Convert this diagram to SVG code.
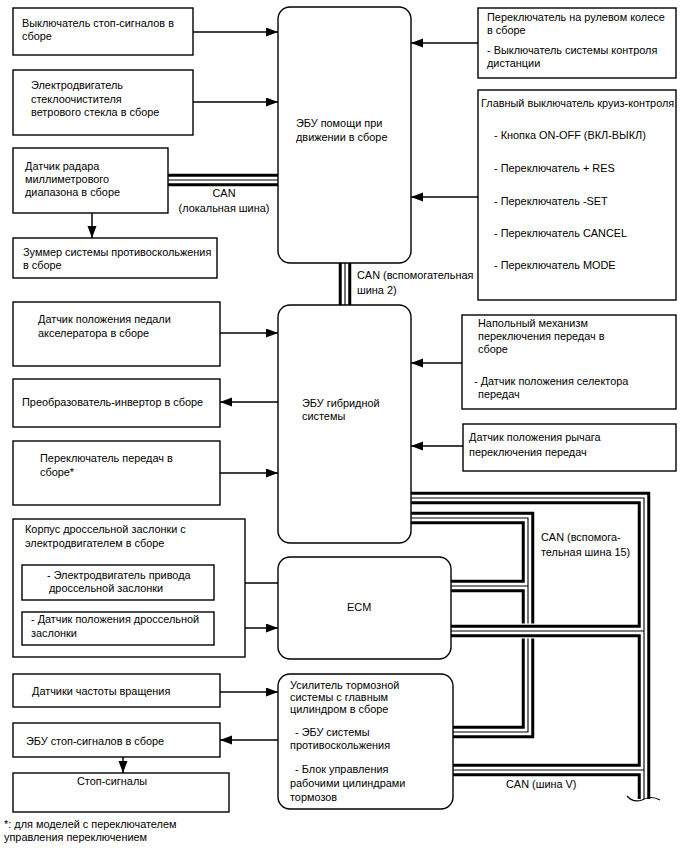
<svg xmlns="http://www.w3.org/2000/svg" width="688" height="852" viewBox="0 0 688 852">
<defs>
<marker id="ah" markerUnits="userSpaceOnUse" markerWidth="13" markerHeight="10" refX="12" refY="4.5" orient="auto">
<path d="M0,0 L12,4.5 L0,9 z" fill="#000"/>
</marker>
<style>
text{font-family:"Liberation Sans",Arial,sans-serif;font-size:10.9px;fill:#000}
.b{fill:#fff;stroke:#000;stroke-width:1.4}
.a{fill:none;stroke:#000;stroke-width:1.5;marker-end:url(#ah)}
.c1{fill:none;stroke:#000;stroke-width:12.5}
.c2{fill:none;stroke:#fff;stroke-width:6.5}
.c3{fill:none;stroke:#000;stroke-width:1.1}
.m{text-anchor:middle}
</style>
</defs>
<rect width="688" height="852" fill="#fff"/>

<g id="connectors">
<line class="a" x1="193" y1="32" x2="278" y2="32"/>
<line class="a" x1="193" y1="102" x2="278" y2="102"/>
<line class="a" x1="92" y1="213" x2="92" y2="238"/>
<line class="a" x1="478" y1="43" x2="411" y2="43"/>
<line class="a" x1="478" y1="197" x2="411" y2="197"/>
<line class="a" x1="220" y1="333" x2="278" y2="333"/>
<line class="a" x1="278" y1="402" x2="220" y2="402"/>
<line class="a" x1="220" y1="473" x2="278" y2="473"/>
<line class="a" x1="462" y1="363" x2="411" y2="363"/>
<line class="a" x1="463" y1="446" x2="411" y2="446"/>
<line class="a" x1="278" y1="583" x2="214" y2="583"/>
<line class="a" x1="214" y1="628" x2="278" y2="628"/>
<line class="a" x1="220" y1="692" x2="278" y2="692"/>
<line class="a" x1="278" y1="740" x2="220" y2="740"/>
<line class="a" x1="123" y1="757" x2="123" y2="773"/>

<g id="can-local">
<line class="c1" x1="168" y1="180" x2="278" y2="180"/>
<line class="c2" x1="168" y1="180" x2="278" y2="180"/>
<line class="c3" x1="168" y1="180" x2="278" y2="180"/>
</g>
<g id="can-sub2">
<line class="c1" x1="345" y1="263" x2="345" y2="305"/>
<line class="c2" x1="345" y1="263" x2="345" y2="305"/>
<line class="c3" x1="345" y1="263" x2="345" y2="305"/>
</g>
<g id="can-b">
<path class="c1" d="M411,518 H528 V732 H453"/>
<path class="c1" d="M451,586 H528"/>
<path class="c2" d="M411,518 H528 V732 H453"/>
<path class="c2" d="M451,586 H528"/>
<path class="c3" d="M411,518 H528 V732 H453"/>
<path class="c3" d="M451,586 H528"/>
</g>
<line x1="515" y1="631" x2="541" y2="631" stroke="#fff" stroke-width="15"/>
<g id="can-a">
<path class="c1" d="M411,498 H644 V799"/>
<path class="c1" d="M451,631 H644"/>
<path class="c1" d="M453,770 H644"/>
<path class="c2" d="M411,498 H644 V799"/>
<path class="c2" d="M451,631 H644"/>
<path class="c2" d="M453,770 H644"/>
<path class="c3" d="M411,498 H644 V799"/>
<path class="c3" d="M451,631 H644"/>
<path class="c3" d="M453,770 H644"/>
</g>
<path d="M636,800 L652,800 L652,812 L636,812 z" fill="#fff"/>
<path d="M627,796 Q633,803 642,800 Q651,795 660,800" fill="none" stroke="#000" stroke-width="1.2"/>

<text class="m" x="224" y="197">CAN</text>
<text class="m" x="224" y="212">(локальная шина)</text>
<text x="357" y="279">CAN (вспомогательная</text>
<text x="357" y="294">шина 2)</text>
<text x="541" y="541">CAN (вспомога-</text>
<text x="541" y="556">тельная шина 15)</text>
<text x="506" y="788">CAN (шина V)</text>
</g>

<g id="stop-switch">
<rect class="b" x="13" y="8" width="180" height="47"/>
<text x="22" y="27">Выключатель стоп-сигналов в</text>
<text x="22" y="40">сборе</text>
</g>
<g id="wiper-motor">
<rect class="b" x="13" y="70" width="180" height="65"/>
<text x="31" y="89">Электродвигатель</text>
<text x="31" y="103">стеклоочистителя</text>
<text x="31" y="116">ветрового стекла в сборе</text>
</g>
<g id="radar">
<rect class="b" x="13" y="148" width="155" height="65"/>
<text x="25" y="170">Датчик радара</text>
<text x="25" y="183">миллиметрового</text>
<text x="25" y="196">диапазона в сборе</text>
</g>
<g id="buzzer">
<rect class="b" x="13" y="238" width="204" height="40"/>
<text x="23" y="256">Зуммер системы противоскольжения</text>
<text x="23" y="269">в сборе</text>
</g>
<g id="ecu-assist">
<rect class="b" x="278" y="7" width="133" height="256" rx="12"/>
<text x="296" y="127">ЭБУ помощи при</text>
<text x="296" y="141">движении в сборе</text>
</g>
<g id="steering-switch">
<rect class="b" x="478" y="8" width="198" height="70"/>
<text x="487" y="21">Переключатель на рулевом колесе</text>
<text x="487" y="34">в сборе</text>
<text x="487" y="54">- Выключатель системы контроля</text>
<text x="487" y="67">дистанции</text>
</g>
<g id="cruise-switch">
<rect class="b" x="478" y="90" width="198" height="210"/>
<text x="481" y="107">Главный выключатель круиз-контроля</text>
<text x="494" y="139">- Кнопка ON-OFF (ВКЛ-ВЫКЛ)</text>
<text x="494" y="172">- Переключатель + RES</text>
<text x="494" y="205">- Переключатель -SET</text>
<text x="494" y="237">- Переключатель CANCEL</text>
<text x="494" y="269">- Переключатель MODE</text>
</g>
<g id="accel-sensor">
<rect class="b" x="13" y="302" width="207" height="64"/>
<text x="38" y="323">Датчик положения педали</text>
<text x="38" y="337">акселератора в сборе</text>
</g>
<g id="inverter">
<rect class="b" x="13" y="379" width="207" height="48"/>
<text x="22" y="406">Преобразователь-инвертор в сборе</text>
</g>
<g id="shift-switch">
<rect class="b" x="13" y="441" width="207" height="64"/>
<text x="40" y="462">Переключатель передач в</text>
<text x="40" y="476">сборе*</text>
</g>
<g id="ecu-hybrid">
<rect class="b" x="278" y="305" width="133" height="238" rx="12"/>
<text x="302" y="407">ЭБУ гибридной</text>
<text x="302" y="420">системы</text>
</g>
<g id="floor-shift">
<rect class="b" x="462" y="315" width="214" height="94"/>
<text x="478" y="327">Напольный механизм</text>
<text x="478" y="340">переключения передач в</text>
<text x="478" y="353">сборе</text>
<text x="474" y="385">- Датчик положения селектора</text>
<text x="478" y="398">передач</text>
</g>
<g id="lever-sensor">
<rect class="b" x="463" y="424" width="213" height="47"/>
<text x="469" y="441">Датчик положения рычага</text>
<text x="469" y="456">переключения передач</text>
</g>
<g id="throttle-body">
<rect class="b" x="13" y="519" width="232" height="138"/>
<text x="25" y="533">Корпус дроссельной заслонки с</text>
<text x="25" y="547">электродвигателем в сборе</text>
</g>
<g id="throttle-motor">
<rect class="b" x="22" y="565" width="192" height="35"/>
<text x="47" y="579">- Электродвигатель привода</text>
<text x="49" y="592">дроссельной заслонки</text>
</g>
<g id="throttle-sensor">
<rect class="b" x="22" y="612" width="192" height="33"/>
<text x="31" y="623">- Датчик положения дроссельной</text>
<text x="31" y="637">заслонки</text>
</g>
<g id="ecm">
<rect class="b" x="278" y="557" width="173" height="102" rx="12"/>
<text x="347" y="611">ECM</text>
</g>
<g id="speed-sensors">
<rect class="b" x="13" y="674" width="207" height="33"/>
<text x="32" y="695">Датчики частоты вращения</text>
</g>
<g id="stop-ecu">
<rect class="b" x="13" y="723" width="207" height="34"/>
<text x="26" y="745">ЭБУ стоп-сигналов в сборе</text>
</g>
<g id="stop-lamps">
<rect class="b" x="13" y="773" width="216" height="39"/>
<text x="77" y="785">Стоп-сигналы</text>
</g>
<g id="brake-booster">
<rect class="b" x="278" y="674" width="175" height="135" rx="12"/>
<text x="290" y="689">Усилитель тормозной</text>
<text x="290" y="701">системы с главным</text>
<text x="290" y="713">цилиндром в сборе</text>
<text x="295" y="736">- ЭБУ системы</text>
<text x="290" y="749">противоскольжения</text>
<text x="295" y="773">- Блок управления</text>
<text x="290" y="787">рабочими цилиндрами</text>
<text x="290" y="801">тормозов</text>
</g>
<g id="footnote">
<text x="4" y="828">*: для моделей с переключателем</text>
<text x="4" y="841">управления переключением</text>
</g>
</svg>
